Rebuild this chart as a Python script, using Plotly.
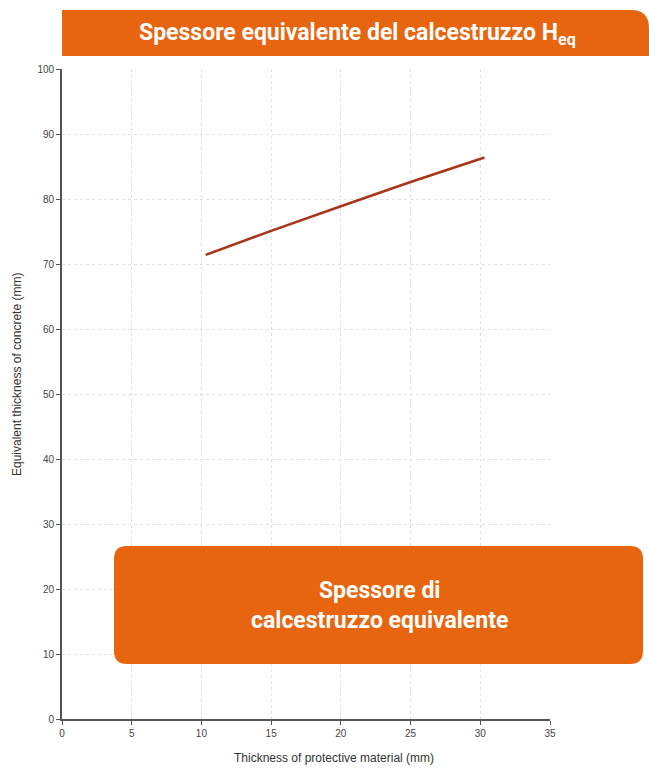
import plotly.graph_objects as go

# Data
thickness_mm = [10.3, 15, 20, 25, 30.3]
equiv_concrete_mm = [71.4, 75.1, 78.9, 82.6, 86.4]
x_ticks = [0, 5, 10, 15, 20, 25, 30, 35]
y_ticks = [0, 10, 20, 30, 40, 50, 60, 70, 80, 90, 100]

title_text = "Spessore equivalente del calcestruzzo H<sub>eq</sub>"
box_text = "Spessore di<br>calcestruzzo equivalente"
x_title = "Thickness of protective material (mm)"
y_title = "Equivalent thickness of concrete (mm)"

W, H = 649, 771
L, R, T, B = 62, 99, 69, 52
PW, PH = W - L - R, H - T - B

def px(xp):
    return (xp - L) / PW

def py(yp):
    return (H - B - yp) / PH

ORANGE = "#E8650F"

fig = go.Figure()
fig.add_trace(go.Scatter(
    x=thickness_mm, y=equiv_concrete_mm, mode="lines",
    line=dict(color="#A8361A", width=2.6), showlegend=False,
    hoverinfo="skip"))

def rounded_rect(x0, y0, x1, y1, r, corners=("tl", "tr", "br", "bl")):
    rtl = r if "tl" in corners else 0
    rtr = r if "tr" in corners else 0
    rbr = r if "br" in corners else 0
    rbl = r if "bl" in corners else 0
    def P(a, b):
        return f"{px(a):.5f},{py(b):.5f}"
    d = f"M {P(x0 + rtl, y0)} L {P(x1 - rtr, y0)} "
    if rtr:
        d += f"Q {P(x1, y0)} {P(x1, y0 + rtr)} "
    d += f"L {P(x1, y1 - rbr)} "
    if rbr:
        d += f"Q {P(x1, y1)} {P(x1 - rbr, y1)} "
    d += f"L {P(x0 + rbl, y1)} "
    if rbl:
        d += f"Q {P(x0, y1)} {P(x0, y1 - rbl)} "
    d += f"L {P(x0, y0 + rtl)} "
    if rtl:
        d += f"Q {P(x0, y0)} {P(x0 + rtl, y0)} "
    d += "Z"
    return d

shapes = [
    dict(type="path", xref="paper", yref="paper",
         path=rounded_rect(62, 10, 649, 56, 18, corners=("tr",)),
         fillcolor=ORANGE, line=dict(width=0), layer="above"),
    dict(type="path", xref="paper", yref="paper",
         path=rounded_rect(114, 546, 643, 664, 13),
         fillcolor=ORANGE, line=dict(width=0), layer="above"),
]

axis_title_font = dict(family="Liberation Sans", size=12, color="#333333")

annotations = [
    dict(text=title_text, xref="paper", yref="paper", x=px(357), y=py(34),
         showarrow=False, xanchor="center", yanchor="middle",
         font=dict(family="Roboto", size=23, color="white", weight="bold")),
    dict(text=box_text, xref="paper", yref="paper", x=px(379), y=py(605),
         showarrow=False, xanchor="center", yanchor="middle",
         font=dict(family="Roboto", size=23, color="white", weight="bold")),
    dict(text=x_title, xref="paper", yref="paper", x=px(334), y=py(758),
         showarrow=False, xanchor="center", yanchor="middle",
         font=axis_title_font),
    dict(text=y_title, xref="paper", yref="paper", x=px(17), y=py(375),
         showarrow=False, xanchor="center", yanchor="middle", textangle=-90,
         font=axis_title_font),
]

axis_common = dict(
    showline=True, linecolor="#555555", linewidth=1.8,
    ticks="outside", ticklen=4, tickcolor="#555555", tickwidth=1,
    showgrid=True, gridcolor="#e0e0e0", griddash="dot", gridwidth=1,
    zeroline=False, automargin=False,
    tickfont=dict(family="Liberation Sans", size=10, color="#444444"),
)

fig.update_layout(
    width=W, height=H,
    margin=dict(l=L, r=R, t=T, b=B),
    paper_bgcolor="white", plot_bgcolor="white",
    shapes=shapes, annotations=annotations,
    xaxis=dict(range=[0, 35], tickvals=x_ticks, **axis_common),
    yaxis=dict(range=[0, 100], tickvals=y_ticks, **axis_common),
)

fig.write_html("out.html", config={"displayModeBar": False},
               post_script="document.body.style.margin='0';")
